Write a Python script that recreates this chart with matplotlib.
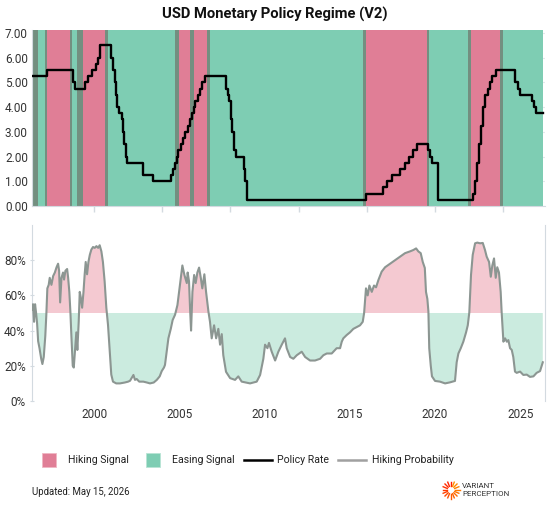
import matplotlib
matplotlib.use("Agg")
import matplotlib.pyplot as plt
from matplotlib.lines import Line2D
from matplotlib.patches import Rectangle
from matplotlib.ticker import FuncFormatter
import numpy as np
import pandas as pd

plt.rcParams['font.family'] = ['Roboto', 'DejaVu Sans']

HIKE = "#E07E96"
EASE = "#7ECDB3"
TRANS = "#738F80"
HIKE_FILL = "#F4C9D1"
EASE_FILL = "#CBEBDF"
PROB_LINE = "#8C9692"
AXIS = "#D3DAE0"
GRID = "#E4E8EB"

# policy rate (target / upper bound), step changes
rate_dates = [
    "1996-05-12", "1997-03-25", "1998-09-29", "1998-10-15", "1998-11-17",
    "1999-06-30", "1999-08-24", "1999-11-16", "2000-02-02", "2000-03-21",
    "2000-05-16", "2001-01-03", "2001-01-31", "2001-03-20", "2001-04-18",
    "2001-05-15", "2001-06-27", "2001-08-21", "2001-09-17", "2001-10-02",
    "2001-11-06", "2001-12-11", "2002-11-06", "2003-06-25", "2004-06-30",
    "2004-08-10", "2004-09-21", "2004-11-10", "2004-12-14", "2005-02-02",
    "2005-03-22", "2005-05-03", "2005-06-30", "2005-08-09", "2005-09-20",
    "2005-11-01", "2005-12-13", "2006-01-31", "2006-03-28", "2006-05-10",
    "2006-06-29", "2007-09-18", "2007-10-31", "2007-12-11", "2008-01-22",
    "2008-01-30", "2008-03-18", "2008-04-30", "2008-10-08", "2008-10-29",
    "2008-12-16", "2015-12-16", "2016-12-14", "2017-03-15", "2017-06-14",
    "2017-12-13", "2018-03-21", "2018-06-13", "2018-09-26", "2018-12-19",
    "2019-07-31", "2019-09-18", "2019-10-30", "2020-03-03", "2020-03-15",
    "2022-03-16", "2022-05-04", "2022-06-15", "2022-07-27", "2022-09-21",
    "2022-11-02", "2022-12-14", "2023-02-01", "2023-03-22", "2023-05-03",
    "2023-07-26", "2024-09-18", "2024-11-07", "2024-12-18", "2025-09-17",
    "2025-10-29", "2025-12-10", "2026-05-01",
]
rate_values = [
    5.25, 5.50, 5.25, 5.00, 4.75,
    5.00, 5.25, 5.50, 5.75, 6.00,
    6.50, 6.00, 5.50, 5.00, 4.50,
    4.00, 3.75, 3.50, 3.00, 2.50,
    2.00, 1.75, 1.25, 1.00, 1.25,
    1.50, 1.75, 2.00, 2.25, 2.50,
    2.75, 3.00, 3.25, 3.50, 3.75,
    4.00, 4.25, 4.50, 4.75, 5.00,
    5.25, 4.75, 4.50, 4.25, 3.50,
    3.00, 2.25, 2.00, 1.50, 1.00,
    0.25, 0.50, 0.75, 1.00, 1.25,
    1.50, 1.75, 2.00, 2.25, 2.50,
    2.25, 2.00, 1.75, 1.25, 0.25,
    0.50, 1.00, 1.75, 2.50, 3.25,
    4.00, 4.50, 4.75, 5.00, 5.25,
    5.50, 5.00, 4.75, 4.50, 4.25,
    4.00, 3.75, 3.75,
]

# regime periods (decimal years); H = hiking, E = easing, T = transition
regime_start = [1996.36, 1996.72, 1997.13, 1997.24, 1998.59, 1998.71, 1999.00, 1999.35,
                2000.65, 2000.82, 2004.75, 2004.99, 2005.63, 2005.87, 2006.63, 2006.80,
                2015.78, 2015.95, 2019.53, 2019.65, 2021.94, 2022.11, 2023.81, 2023.99]
regime_end = [1996.72, 1997.13, 1997.24, 1998.59, 1998.71, 1999.00, 1999.35, 2000.65,
              2000.82, 2004.75, 2004.99, 2005.63, 2005.87, 2006.63, 2006.80, 2015.78,
              2015.95, 2019.53, 2019.65, 2021.94, 2022.11, 2023.81, 2023.99, 2026.33]
regime_state = ["T", "E", "T", "H", "T", "E", "T", "H",
                "T", "E", "T", "H", "T", "H", "T", "E",
                "T", "H", "T", "E", "T", "H", "T", "E"]

# hiking probability (%)
prob_years = [
    1996.36, 1996.42, 1996.48, 1996.54, 1996.60, 1996.66, 1996.72, 1996.80, 1996.90, 1996.97,
    1997.05, 1997.14, 1997.20, 1997.26, 1997.34, 1997.40, 1997.50, 1997.60, 1997.70, 1997.80,
    1997.89, 1997.95, 1998.01, 1998.09, 1998.18, 1998.24, 1998.32, 1998.42, 1998.48, 1998.55,
    1998.61, 1998.67, 1998.75, 1998.81, 1998.88, 1998.96, 1999.02, 1999.10, 1999.16, 1999.22,
    1999.30, 1999.38, 1999.45, 1999.51, 1999.59, 1999.67, 1999.75, 1999.84, 1999.94, 2000.04,
    2000.14, 2000.24, 2000.33, 2000.43, 2000.52, 2000.62, 2000.72, 2000.82, 2000.92, 2001.01,
    2001.11, 2001.30, 2001.52, 2001.80, 2002.00, 2002.11, 2002.20, 2002.31, 2002.40, 2002.50,
    2002.65, 2002.89, 2003.10, 2003.28, 2003.50, 2003.68, 2003.85, 2003.97, 2004.10, 2004.16,
    2004.26, 2004.36, 2004.50, 2004.61, 2004.75, 2004.89, 2005.01, 2005.18, 2005.30, 2005.44,
    2005.49, 2005.57, 2005.63, 2005.69, 2005.77, 2005.87, 2005.96, 2006.06, 2006.16, 2006.26,
    2006.35, 2006.47, 2006.57, 2006.71, 2006.80, 2006.90, 2007.04, 2007.16, 2007.29, 2007.39,
    2007.49, 2007.58, 2007.74, 2007.98, 2008.27, 2008.46, 2008.66, 2008.90, 2009.15, 2009.54,
    2009.74, 2009.93, 2010.03, 2010.17, 2010.26, 2010.42, 2010.62, 2010.81, 2011.01, 2011.20,
    2011.30, 2011.50, 2011.69, 2011.89, 2012.18, 2012.38, 2012.67, 2012.96, 2013.26, 2013.45,
    2013.65, 2013.94, 2014.23, 2014.43, 2014.53, 2014.62, 2014.82, 2015.01, 2015.21, 2015.41,
    2015.60, 2015.76, 2015.84, 2015.95, 2016.05, 2016.15, 2016.29, 2016.42, 2016.54, 2016.68,
    2016.87, 2017.07, 2017.36, 2017.65, 2017.95, 2018.24, 2018.53, 2018.73, 2018.89, 2019.02,
    2019.16, 2019.28, 2019.40, 2019.47, 2019.55, 2019.61, 2019.66, 2019.75, 2019.82, 2020.00,
    2020.29, 2020.59, 2020.88, 2021.17, 2021.27, 2021.37, 2021.51, 2021.66, 2021.82, 2021.92,
    2022.01, 2022.11, 2022.21, 2022.35, 2022.48, 2022.64, 2022.80, 2022.93, 2023.03, 2023.17,
    2023.27, 2023.36, 2023.46, 2023.56, 2023.65, 2023.75, 2023.85, 2023.91, 2024.01, 2024.11,
    2024.21, 2024.30, 2024.40, 2024.50, 2024.59, 2024.69, 2024.79, 2024.99, 2025.18, 2025.38,
    2025.57, 2025.77, 2025.96, 2026.16, 2026.32,
]
prob_values = [
    52, 55, 45, 55, 50, 44, 34, 30, 24, 21,
    25, 37, 49, 64, 66, 70, 66, 71, 73, 76,
    78, 74, 56, 70, 73, 69, 74, 75, 70, 62,
    51, 37, 20, 19, 28, 39, 29, 45, 62, 59,
    53, 62, 72, 79, 72, 79, 83, 86, 87.5, 87,
    88, 87, 88.5, 85, 79, 68, 53, 43, 28, 15,
    11, 10, 10, 10.5, 11, 11.5, 13, 14.8, 12, 12.5,
    11, 11, 10.5, 10, 10.5, 12, 14, 17, 19, 20.5,
    28, 35.6, 41, 46, 49, 54.5, 64, 77, 71.6, 67,
    73, 68, 52.7, 40, 62, 71.6, 67, 73, 75.8, 70,
    64, 72, 62, 50.7, 45, 35.6, 43, 35.6, 41, 32,
    38, 26, 16.6, 13, 12, 14, 11, 10.5, 10, 11,
    14.8, 24, 32, 30, 33, 28, 23, 28, 32, 35.6,
    30, 25, 24, 26, 28, 25, 23, 23, 24, 26,
    27, 27, 30, 30, 33.7, 35.6, 37.5, 39, 41, 42,
    43, 45, 50, 64, 60, 65.6, 62, 65.6, 64.6, 68.8,
    73.5, 76, 78, 80, 82, 84, 85, 85.8, 86.7, 85,
    84, 79, 75.6, 62, 58, 51, 30, 20, 14, 11.4,
    11, 10, 10.6, 11.4, 22, 27, 30, 33.7, 39, 43,
    50.3, 71.6, 83, 89.6, 90, 89.6, 89.8, 85.8, 82, 79,
    70.6, 77, 81, 70, 76, 73, 62, 50, 33.7, 35.6,
    33.7, 34.6, 30, 29, 25, 16.7, 16, 16.7, 14.8, 15,
    13.7, 14, 16, 17, 22,
]

top_ticks = [2000, 2004, 2008, 2012, 2016, 2020, 2024]
bottom_ticks = [2000, 2005, 2010, 2015, 2020, 2025]
rate_ticks = [0, 1, 2, 3, 4, 5, 6, 7]
prob_ticks = [0, 0.2, 0.4, 0.6, 0.8]


def dec_year(s):
    d = pd.Timestamp(s)
    n = 366 if d.is_leap_year else 365
    return d.year + (d.dayofyear - 1) / n


W, H = 550, 505


def fx(x):
    return x / W


def fy(y):
    return 1 - y / H


fig = plt.figure(figsize=(5.5, 5.05), dpi=100)
ax1 = fig.add_axes([fx(32), fy(206), 513 / W, 176 / H])
ax2 = fig.add_axes([fx(32), fy(401), 513 / W, 176 / H])
XLIM = (1996.36, 2026.45)

# ---- top: regimes + policy rate ----
colors = {"H": HIKE, "E": EASE, "T": TRANS}
for s, e, st in zip(regime_start, regime_end, regime_state):
    ax1.axvspan(s, e, color=colors[st], lw=0, zorder=1)
for t in rate_ticks:
    ax1.axhline(t, color=GRID, lw=0.8, zorder=0)
rx = [dec_year(d) for d in rate_dates]
ax1.plot(rx, rate_values, drawstyle="steps-post", color="black", lw=1.7, zorder=3)
ax1.set_xlim(*XLIM)
ax1.set_ylim(0, 7.12)
ax1.set_yticks(rate_ticks)
ax1.yaxis.set_major_formatter(FuncFormatter(lambda v, p: f"{v:.2f}"))
ax1.set_xticks(top_ticks)
ax1.set_xticklabels([])
ax1.tick_params(axis="y", length=0, pad=3, labelsize=8.5, labelcolor="#333333")
ax1.tick_params(axis="x", length=4, color=AXIS, width=1)
for side in ("top", "right"):
    ax1.spines[side].set_visible(False)
for side in ("left", "bottom"):
    ax1.spines[side].set_color(AXIS)

# ---- bottom: hiking probability ----
px = np.array(prob_years)
pv = np.array(prob_values) / 100.0
ax2.fill_between(px, pv, 0.5, where=pv >= 0.5, interpolate=True, color=HIKE_FILL, lw=0, zorder=1)
ax2.fill_between(px, pv, 0.5, where=pv <= 0.5, interpolate=True, color=EASE_FILL, lw=0, zorder=1)
ax2.plot(px, pv, color=PROB_LINE, lw=1.5, zorder=3)
ax2.set_xlim(*XLIM)
ax2.set_ylim(0, 1.0)
ax2.set_yticks(prob_ticks)
ax2.set_yticklabels([f"{int(round(v * 100))}%" for v in prob_ticks])
ax2.set_xticks(bottom_ticks)
ax2.set_xticklabels([str(t) for t in bottom_ticks])
ax2.tick_params(axis="y", length=3, direction="inout", color=AXIS, pad=3,
                labelsize=8.5, labelcolor="#333333")
ax2.tick_params(axis="x", length=0, pad=5, labelsize=8.5, labelcolor="#333333")
ax2.spines["top"].set_visible(False)
ax2.spines["bottom"].set_visible(False)
ax2.spines["left"].set_color(AXIS)
ax2.spines["right"].set_color(AXIS)

# ---- title ----
fig.text(0.5, fy(14), "USD Monetary Policy Regime (V2)", ha="center", va="center",
         fontsize=10.6, fontweight="bold", color="#111111")

# ---- legend ----
ly = 460
fig.add_artist(Rectangle((fx(42), fy(467)), 14 / W, 14 / H, transform=fig.transFigure,
                         facecolor=HIKE, edgecolor="#F0B7C4", lw=0.6))
fig.text(fx(68), fy(ly), "Hiking Signal", ha="left", va="center", fontsize=7.6, color="#222222")
fig.add_artist(Rectangle((fx(146), fy(467)), 14 / W, 14 / H, transform=fig.transFigure,
                         facecolor=EASE, edgecolor="#B9E4D5", lw=0.6))
fig.text(fx(172), fy(ly), "Easing Signal", ha="left", va="center", fontsize=7.6, color="#222222")
fig.add_artist(Line2D([fx(244), fx(272)], [fy(ly), fy(ly)], transform=fig.transFigure,
                      color="black", lw=1.8))
fig.text(fx(277), fy(ly), "Policy Rate", ha="left", va="center", fontsize=7.6, color="#222222")
fig.add_artist(Line2D([fx(338), fx(366)], [fy(ly), fy(ly)], transform=fig.transFigure,
                      color="#A0A0A0", lw=1.8))
fig.text(fx(372), fy(ly), "Hiking Probability", ha="left", va="center", fontsize=7.6,
         color="#222222")

# ---- footer ----
fig.text(fx(32), fy(492), "Updated: May 15, 2026", ha="left", va="center", fontsize=6.9,
         color="#222222")
cx, cy = 451, 490
n = 16
for i in range(n):
    a = np.pi / 2 + 2 * np.pi * i / n
    c = plt.cm.autumn(0.1 + 0.5 * (i / n))
    r0, r1 = 4.0, 8.5
    fig.add_artist(Line2D([fx(cx + r0 * np.cos(a)), fx(cx + r1 * np.cos(a))],
                          [fy(cy - r0 * np.sin(a)), fy(cy - r1 * np.sin(a))],
                          transform=fig.transFigure, color=c, lw=1.0))
fig.text(fx(462), fy(486), "VARIANT", ha="left", va="center", fontsize=5.8, color="#333333")
fig.text(fx(462), fy(494), "PERCEPTION", ha="left", va="center", fontsize=5.8, color="#333333")

fig.savefig("out.png", dpi=100)
